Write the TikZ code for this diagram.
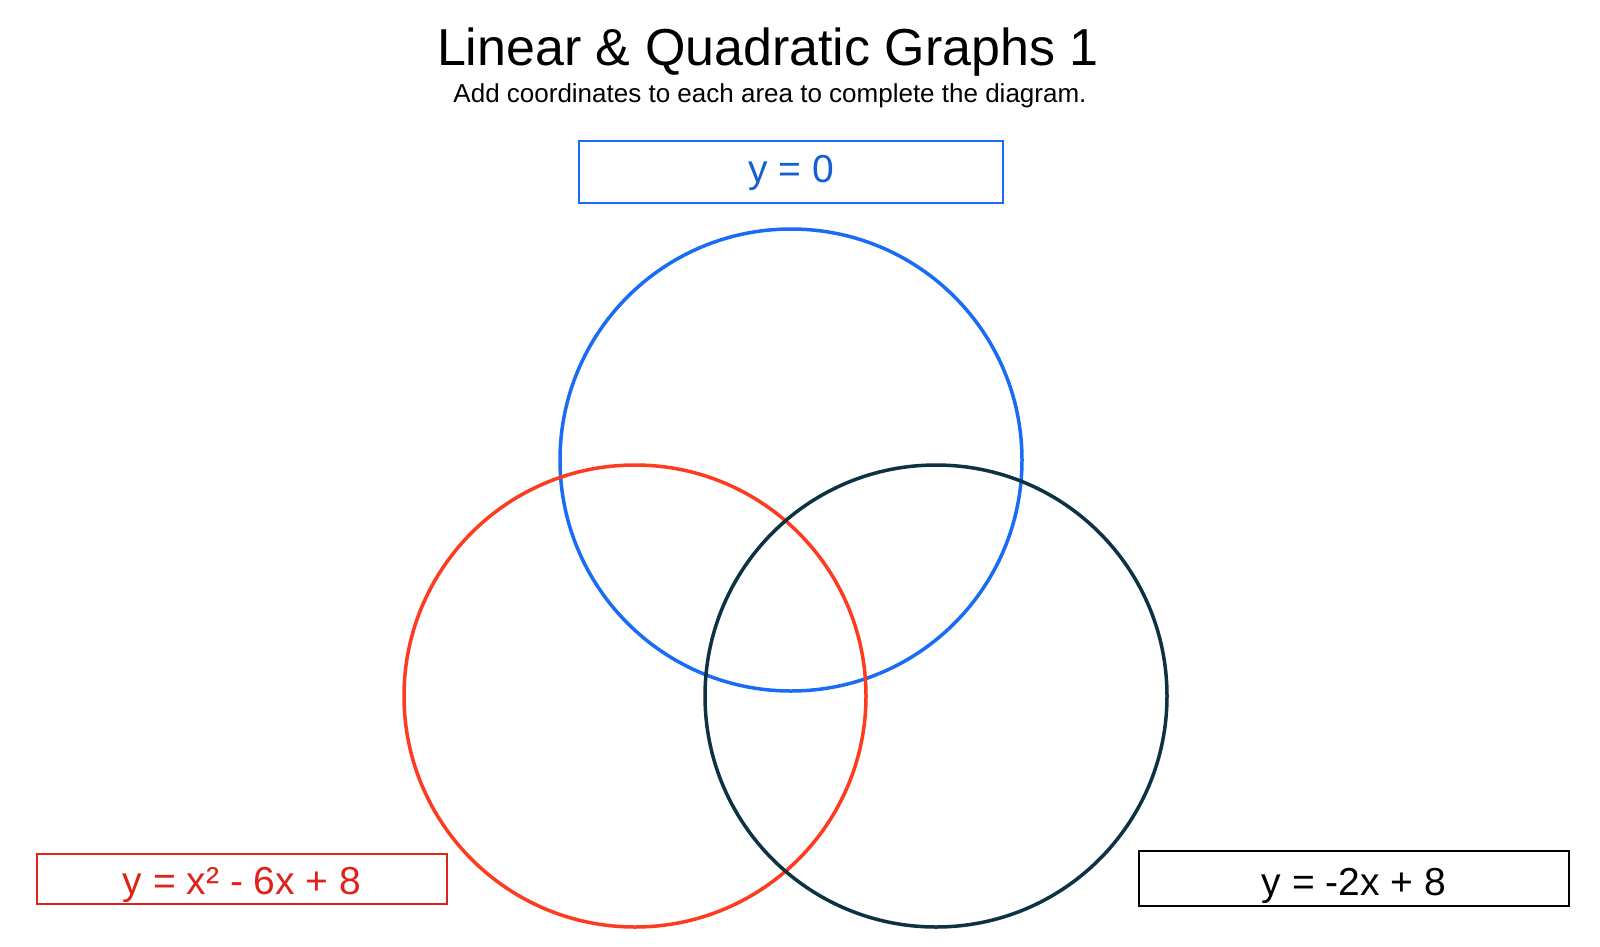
\documentclass[tikz,border=0pt]{standalone}
\usepackage{fontspec}
\setmainfont{Liberation Sans}
\definecolor{cblue}{HTML}{1A6CF5}
\definecolor{cbluetext}{HTML}{1560D0}
\definecolor{cred}{HTML}{FF3B1F}
\definecolor{credbox}{HTML}{E0231A}
\definecolor{cdark}{HTML}{0D3242}
\tikzset{
  ring/.style={circle, draw, line width=3.5pt, minimum size=462pt, inner sep=0pt},
  lbox/.style={draw, line width=2pt, inner sep=0pt, align=center, font=\fontsize{39}{44}\selectfont, text depth=0pt},
}
\begin{document}
\begin{tikzpicture}[x=1pt, y=-1pt]
\useasboundingbox (0,0) rectangle (1600,946);
\fill[white] (0,0) rectangle (1600,946);
\node[anchor=base, font=\fontsize{52}{60}\selectfont] (title) at (768,65) {Linear \& Quadratic Graphs 1};
\node[anchor=base, font=\fontsize{26}{30}\selectfont] (sub) at (770,102) {Add coordinates to each area to complete the diagram.};
\node[ring, draw=cblue] (cb) at (791,460) {};
\node[ring, draw=cred] (cr) at (635,696) {};
\node[ring, draw=cdark] (cd) at (936,696) {};
\node[lbox, draw=cblue, text=cbluetext, minimum width=424pt, minimum height=62pt, text height=21pt] (bb) at (791,171.5) {y = 0};
\node[lbox, draw=credbox, text=credbox, minimum width=410pt, minimum height=50pt, text height=30pt] (rb) at (242,879) {y = x² - 6x + 8};
\node[lbox, draw=black, text=black, minimum width=430pt, minimum height=55pt, text height=33pt] (kb) at (1354,878.5) {y = -2x + 8};
\end{tikzpicture}
\end{document}
